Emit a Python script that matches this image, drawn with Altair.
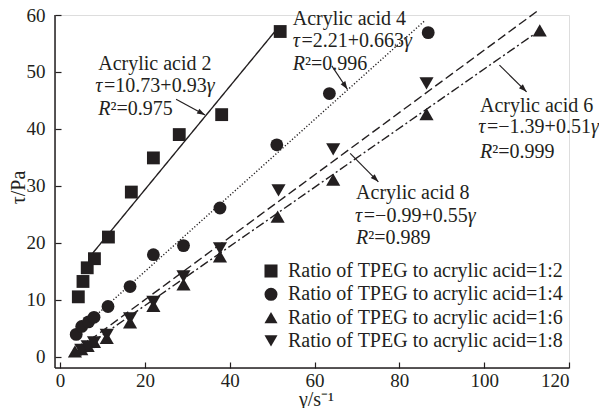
import math
import altair as alt
import pandas as pd

INK = "#231f20"
FONT = "Liberation Serif"

# ---------------- data ----------------
series_names = [
    "Ratio of TPEG to acrylic acid=1:2",
    "Ratio of TPEG to acrylic acid=1:4",
    "Ratio of TPEG to acrylic acid=1:6",
    "Ratio of TPEG to acrylic acid=1:8",
]
series_shapes = ["square", "circle", "triangle-up", "triangle-down"]
series_sizes = [165, 165, 200, 200]

x_12 = [4.3, 5.4, 6.4, 8.1, 11.4, 16.8, 22.0, 28.1, 38.1, 51.9]
y_12 = [10.5, 13.2, 15.6, 17.2, 21.0, 28.9, 34.9, 39.0, 42.5, 57.1]

x_14 = [3.8, 5.1, 6.7, 8.0, 11.3, 16.5, 22.0, 29.1, 37.7, 51.1, 63.5, 86.8]
y_14 = [3.9, 5.3, 6.1, 6.9, 8.8, 12.3, 17.9, 19.5, 26.1, 37.2, 46.2, 56.9]

x_16 = [3.5, 5.0, 6.5, 8.0, 11.0, 16.5, 22.0, 29.1, 37.7, 51.3, 64.4, 86.4, 113.1]
y_16 = [0.9, 1.3, 1.9, 2.6, 3.3, 6.0, 8.9, 12.7, 17.6, 24.6, 31.1, 42.6, 57.3]

x_18 = [5.0, 6.5, 8.0, 11.0, 16.5, 22.0, 29.1, 37.7, 51.5, 64.4, 86.4]
y_18 = [1.2, 1.8, 2.5, 3.8, 6.7, 9.6, 14.1, 19.0, 29.2, 36.4, 48.0]

# fitted lines (end points)
fit_names = ["Acrylic acid 2", "Acrylic acid 4", "Acrylic acid 6", "Acrylic acid 8"]
fit_x0 = [7.5, 3.0, 3.5, 4.5]
fit_y0 = [18.0, 3.6, 0.4, 1.5]
fit_x1 = [51.2, 86.0, 112.7, 113.1]
fit_y1 = [57.6, 59.0, 57.1, 61.0]
fit_dash = [[1, 0], [1.2, 2.0], [9, 3, 2, 3], [9, 4]]

# annotation texts
ann_title = ["Acrylic acid 2", "Acrylic acid 4", "Acrylic acid 6", "Acrylic acid 8"]
ann_eq = ["=10.73+0.93", "=2.21+0.663", "=\u22121.39+0.51", "=\u22120.99+0.55"]
ann_r2 = ["\u00b2=0.975", "\u00b2=0.996", "\u00b2=0.999", "\u00b2=0.989"]
ann_x = [9.0, 54.85, 99.0, 69.8]
ann_eq_x = [8.3, 54.85, 98.6, 69.55]
ann_y1 = [50.3, 58.2, 43.0, 27.6]
ann_y2 = [46.4, 54.4, 39.2, 23.7]
ann_y3 = [42.45, 50.35, 34.8, 19.8]

# arrows (tail -> head)
arr_x0 = [27.35, 64.07, 103.6, 68.4]
arr_y0 = [45.2, 51.05, 51.2, 35.7]
arr_x1 = [34.19, 67.75, 110.0, 75.05]
arr_y1 = [42.45, 46.96, 46.5, 30.7]

x_ticks = [0, 20, 40, 60, 80, 100, 120]
y_ticks = [0, 10, 20, 30, 40, 50, 60]
x_dom = [-1.2, 120]
y_dom = [-2, 60]

# ---------------- layout ----------------
W, H = 514, 353
SX = W / (x_dom[1] - x_dom[0])
SY = H / (y_dom[1] - y_dom[0])
FS = 20

xs = alt.Scale(domain=x_dom, nice=False, zero=False)
ys = alt.Scale(domain=y_dom, nice=False, zero=False)

pts = []
for name, shp, sz, xv, yv in zip(series_names, series_shapes, series_sizes,
                                  [x_12, x_14, x_16, x_18], [y_12, y_14, y_16, y_18]):
    for a, b in zip(xv, yv):
        pts.append({"x": a, "y": b, "series": name, "sz": sz})
pts = pd.DataFrame(pts)

lines = []
for n, a0, b0, a1, b1 in zip(fit_names, fit_x0, fit_y0, fit_x1, fit_y1):
    lines.append({"x": a0, "y": b0, "fit": n, "o": 0})
    lines.append({"x": a1, "y": b1, "fit": n, "o": 1})
lines = pd.DataFrame(lines)

arrows = pd.DataFrame({"x": arr_x0, "y": arr_y0, "x2": arr_x1, "y2": arr_y1})
arrows["ang"] = [
    (math.degrees(math.atan2(-(b1 - b0) * SY, (a1 - a0) * SX)) + 360) % 360
    for a0, b0, a1, b1 in zip(arr_x0, arr_y0, arr_x1, arr_y1)
]

# text segments with italic parts
W_REG = {".": 0.25, "+": 0.564, "=": 0.564, "\u2212": 0.564, "\u00b2": 0.3, " ": 0.25}
W_IT = {"\u03c4": 0.44, "\u03b3": 0.44, "R": 0.611}


def seg_width(s, italic):
    tot = 0.0
    for ch in s:
        if italic:
            tot += W_IT.get(ch, 0.5)
        else:
            tot += W_REG.get(ch, 0.5)
    return tot * FS / SX


texts = []
for i in range(4):
    texts.append({"x": ann_x[i], "y": ann_y1[i], "t": ann_title[i], "it": False})
    segs = [("\u03c4", True), (ann_eq[i], False), ("\u03b3", True)]
    cx = ann_eq_x[i]
    for s, it in segs:
        texts.append({"x": cx, "y": ann_y2[i], "t": s, "it": it})
        cx += seg_width(s, it)
    segs = [("R", True), (ann_r2[i], False)]
    cx = ann_x[i]
    for s, it in segs:
        texts.append({"x": cx, "y": ann_y3[i], "t": s, "it": it})
        cx += seg_width(s, it)
texts = pd.DataFrame(texts)

frame = pd.DataFrame({
    "x": [x_dom[0], x_dom[0]], "x2": [x_dom[1], x_dom[0]],
    "y": [y_dom[0], y_dom[0]], "y2": [y_dom[0], y_dom[1]],
})

x_axis = alt.Axis(values=x_ticks, format="d", domain=False, grid=False,
                  tickSize=6, tickWidth=1.2, tickColor=INK, offset=-6,
                  labelFont=FONT, labelFontSize=19, labelColor=INK, labelPadding=3,
                  title="\u03b3/s\u207b\u00b9", titleFont=FONT, titleFontSize=FS,
                  titleFontWeight="normal", titleColor=INK,
                  titleBaseline="alphabetic", titleY=43, titleX=261)
y_axis = alt.Axis(values=y_ticks, format="d", domain=False, grid=False,
                  tickSize=6, tickWidth=1.2, tickColor=INK, offset=-6,
                  labelFont=FONT, labelFontSize=19, labelColor=INK, labelPadding=10,
                  title="\u03c4/Pa", titleFont=FONT, titleFontSize=FS,
                  titleFontWeight="normal", titleColor=INK,
                  titleBaseline="middle", titleX=-43, titleY=172, titleAngle=270)

fit_layer = alt.Chart(lines).mark_line(color=INK, strokeWidth=1.4).encode(
    x=alt.X("x:Q", scale=xs, axis=x_axis),
    y=alt.Y("y:Q", scale=ys, axis=y_axis),
    detail="fit:N",
    order="o:Q",
    strokeDash=alt.StrokeDash("fit:N", scale=alt.Scale(domain=fit_names, range=fit_dash), legend=None),
)

pt_layer = alt.Chart(pts).mark_point(filled=True, color=INK, opacity=1).encode(
    x=alt.X("x:Q", scale=xs),
    y=alt.Y("y:Q", scale=ys),
    shape=alt.Shape("series:N", scale=alt.Scale(domain=series_names, range=series_shapes),
                    legend=alt.Legend(orient="none", legendX=206, legendY=246, title=None,
                                      labelFont=FONT, labelFontSize=FS, labelColor=INK,
                                      labelLimit=0, symbolSize=170, symbolFillColor=INK,
                                      symbolStrokeColor=INK, symbolStrokeWidth=0,
                                      symbolOpacity=1, labelOffset=7, rowPadding=3.3,
                                      padding=0)),
    size=alt.Size("sz:Q", scale=None),
)

shaft_layer = alt.Chart(arrows).mark_rule(color=INK, strokeWidth=1.2).encode(
    x=alt.X("x:Q", scale=xs), y=alt.Y("y:Q", scale=ys), x2="x2:Q", y2="y2:Q")

head_layer = alt.Chart(arrows).mark_point(
    shape="M0,0L-2,-0.7L-2,0.7Z", filled=True, color=INK, opacity=1, size=64
).encode(x=alt.X("x2:Q", scale=xs), y=alt.Y("y2:Q", scale=ys), angle=alt.Angle("ang:Q", scale=None))

txt_reg = alt.Chart(texts).transform_filter("!datum.it").mark_text(
    font=FONT, fontSize=FS, color=INK, align="left", baseline="alphabetic"
).encode(x=alt.X("x:Q", scale=xs), y=alt.Y("y:Q", scale=ys), text="t:N")

txt_it = alt.Chart(texts).transform_filter("datum.it").mark_text(
    font=FONT, fontSize=FS, fontStyle="italic", color=INK, align="left", baseline="alphabetic"
).encode(x=alt.X("x:Q", scale=xs), y=alt.Y("y:Q", scale=ys), text="t:N")

frame_layer = alt.Chart(frame).mark_rule(color=INK, strokeWidth=1.5).encode(
    x=alt.X("x:Q", scale=xs), y=alt.Y("y:Q", scale=ys), x2="x2:Q", y2="y2:Q")

chart = alt.layer(
    fit_layer, pt_layer, shaft_layer, head_layer, txt_reg, txt_it, frame_layer
).properties(
    width=W, height=H,
    autosize=alt.AutoSizeParams(type="none"),
    padding={"left": 47, "top": 7, "right": 30, "bottom": 40},
).configure_view(stroke=None).configure(background="white")

chart.save("out.html", embed_options={"renderer": "svg", "actions": False})
